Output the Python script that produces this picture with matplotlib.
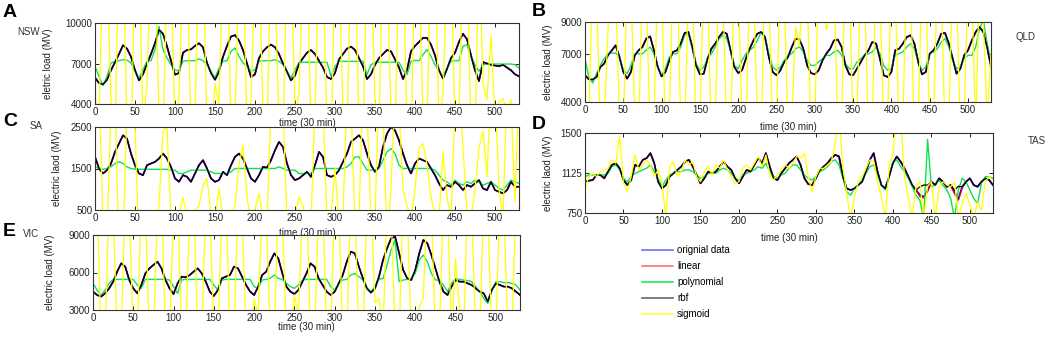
import numpy as np
import matplotlib
matplotlib.use("Agg")
import matplotlib.pyplot as plt
from matplotlib.lines import Line2D

plt.rcParams['font.family'] = ['Liberation Sans', 'DejaVu Sans']

# legend entries, in drawing order
series_names = ['orignial data', 'linear', 'polynomial', 'rbf', 'sigmoid']
series_colors = ['#0000ff', '#ff0000', '#10e050', '#000000', '#ffff00']
series_widths = [1.3, 0.8, 1.0, 0.9, 0.9]
legend_colors = ['#7070ff', '#ff7070', '#20ee50', '#666666', '#ffff40']

# ---- NSW (MW, every 5 half-hours from 0 to 530) ----
nsw_orig = [5950, 5550, 5450, 5800, 6500, 7100, 7700, 8350, 8100, 7500,
            6500, 5750, 6200, 7000, 7700, 8500, 9500, 9200, 8270, 7200,
            6170, 6300, 7800, 8000, 8050, 8300, 8500, 8200, 7040, 6300,
            5800, 6400, 7500, 8300, 9000, 9100, 8700, 8000, 7000, 6000,
            6200, 7400, 7900, 8200, 8400, 8200, 7700, 7000, 6400, 5750,
            6100, 7000, 7400, 7800, 8000, 7700, 7200, 6700, 6000, 5850,
            6300, 7300, 7700, 8100, 8250, 8000, 7400, 6800, 5850, 6200,
            6900, 7400, 7700, 8000, 7900, 7300, 6700, 5850, 6500, 7900,
            8300, 8600, 8900, 8900, 8400, 7600, 6500, 5880, 6600, 7400,
            7800, 8600, 9200, 8800, 7600, 6500, 5700, 7100, 7000, 6900,
            6850, 6800, 6900, 6700, 6500, 6200, 6050]
nsw_linear = nsw_orig
nsw_rbf = nsw_orig
nsw_poly = [6790, 6050, 5360, 6050, 7040, 7160, 7210, 7280, 7250, 7040,
            6420, 5930, 6540, 7160, 7210, 8020, 9750, 8020, 7410, 6910,
            6540, 6420, 7160, 7210, 7210, 7210, 7360, 7210, 6910, 6420,
            5930, 6670, 7160, 7210, 7900, 8150, 7530, 7040, 6790, 6420,
            6540, 7160, 7210, 7210, 7210, 7280, 7160, 6910, 6420, 5930,
            6540, 7040, 7090, 7090, 7090, 7090, 7090, 7090, 7090, 6050,
            6790, 7160, 7160, 7160, 7160, 7160, 7160, 7160, 6170, 6910,
            7090, 7090, 7090, 7090, 7090, 7090, 7090, 6500, 6170, 7160,
            7230, 7210, 7650, 8020, 7530, 6910, 6420, 6050, 6670, 7160,
            7210, 7210, 8270, 8400, 7530, 6910, 6420, 6910, 6960, 6960,
            6960, 6960, 6960, 6960, 6960, 6910, 6670]
nsw_sig = [4500, 3000, 15000, 14000, 4300, 2000, 15000, 16000, 2000, 1000,
           14000, 15000, 2500, 5500, 16000, 15000, 3000, 2000, 13000, 14000,
           2000, 4500, 15000, 14000, 2000, 3000, 16000, 15000, 2000, 1000,
           5500, 4000, 15000, 16000, 2000, 3000, 14000, 15000, 2000, 4200,
           14000, 16000, 3000, 2000, 15000, 13000, 2500, 1500, 15000, 16000,
           3000, 4800, 14000, 15000, 2000, 3000, 16000, 14000, 2000, 1000,
           14000, 15000, 3000, 2000, 15000, 16000, 2000, 1500, 14000, 15000,
           4300, 2000, 16000, 15000, 3000, 2000, 14000, 16000, 2000, 1000,
           15000, 14000, 3000, 2000, 16000, 15000, 2500, 4800, 14000, 15000,
           2000, 3000, 15000, 14000, 2000, 1500, 16000, 5400, 4300, 9100,
           3000, 4200, 4400, 3500, 4300, 3000, 3800]

# ---- QLD ----
qld_orig = [5670, 5420, 5400, 5560, 6190, 6400, 6920, 7230, 7540, 6810,
            5880, 5460, 5880, 6920, 7230, 7440, 7960, 8100, 7230, 6190,
            5600, 5880, 6600, 7130, 7230, 7650, 8310, 8375, 7440, 6290,
            5730, 5770, 6710, 7330, 7650, 8060, 8375, 8270, 7230, 6190,
            5810, 5980, 6710, 7330, 7850, 8270, 8375, 8060, 6810, 5880,
            5670, 5980, 6500, 6810, 7440, 7960, 7900, 7330, 6290, 5810,
            5730, 5980, 6600, 7020, 7330, 7850, 7900, 7440, 6290, 5730,
            5670, 6080, 6500, 6920, 7230, 7750, 7650, 6710, 5670, 5560,
            5880, 7230, 7330, 7650, 8060, 8170, 7650, 6500, 5730, 5880,
            7020, 7230, 7650, 8270, 8310, 7650, 6710, 5770, 6080, 6920,
            7230, 7850, 8375, 8690, 8375, 7440, 6190]
qld_linear = qld_orig
qld_rbf = qld_orig
qld_poly = [6710, 5560, 5190, 5770, 6290, 6710, 7020, 7060, 7060, 6810,
            5980, 5770, 6290, 7020, 7020, 7020, 7230, 7440, 7020, 6190,
            5670, 6080, 6810, 7020, 7020, 7440, 8170, 8270, 7440, 6400,
            5980, 6190, 6710, 7020, 7440, 7960, 8170, 7960, 7230, 6290,
            6080, 6600, 7020, 7230, 7440, 7850, 8375, 8060, 7020, 6190,
            5980, 6190, 6600, 6920, 7020, 7330, 7440, 7130, 6600, 6290,
            6290, 6500, 6710, 6920, 6920, 7130, 7230, 6920, 6400, 6080,
            6080, 6500, 6710, 6920, 7020, 7130, 7440, 7020, 6290, 5980,
            6080, 6920, 7020, 7130, 7440, 7650, 7330, 6500, 5980, 6190,
            7020, 7130, 7330, 7750, 7960, 7440, 6600, 6080, 6190, 6710,
            6920, 6920, 7440, 8580, 9100, 7650, 6500]
qld_sig = [4200, 3000, 12000, 11000, 2000, 2500, 8500, 12000, 11000, 3000,
           2000, 12000, 11000, 3000, 2000, 12000, 11000, 2000, 3000, 12000,
           11000, 2000, 3000, 12000, 13000, 2500, 2000, 11000, 12000, 2000,
           3000, 12000, 11000, 2000, 3000, 12000, 11000, 2000, 2000, 12000,
           11000, 3000, 2000, 12000, 11000, 3000, 2000, 12000, 11000, 2000,
           3000, 12000, 11000, 2000, 3000, 8700, 7500, 12000, 11000, 2000,
           3000, 12000, 11000, 8500, 9500, 12000, 2000, 3000, 13000, 12000,
           2000, 3000, 12000, 11000, 2000, 3000, 12000, 11000, 2000, 3000,
           12000, 11000, 2000, 3000, 12000, 11000, 2000, 3000, 12000, 11000,
           2000, 3000, 12000, 11000, 2000, 3000, 12000, 11000, 2000, 3000,
           12000, 11000, 2000, 12000, 9000, 3000, 7000]

# ---- SA ----
sa_orig = [1780, 1500, 1380, 1460, 1620, 1900, 2100, 2300, 2220, 1860,
           1580, 1380, 1340, 1580, 1620, 1660, 1740, 1860, 1740, 1540,
           1260, 1180, 1340, 1300, 1180, 1380, 1580, 1700, 1500, 1260,
           1180, 1220, 1420, 1340, 1580, 1780, 1860, 1740, 1500, 1260,
           1180, 1340, 1540, 1520, 1700, 1940, 2140, 2020, 1620, 1340,
           1220, 1260, 1340, 1420, 1300, 1580, 1900, 1780, 1340, 1300,
           1340, 1460, 1660, 1860, 2140, 2220, 2300, 2180, 1860, 1580,
           1420, 1540, 2020, 2340, 2500, 2420, 2180, 1860, 1580, 1380,
           1620, 1740, 1700, 1660, 1500, 1340, 1140, 980, 1100, 1060,
           1180, 1100, 980, 1100, 1060, 1140, 1220, 1020, 980, 1180,
           980, 940, 900, 980, 1180, 1060, 1060]
sa_linear = sa_orig
sa_rbf = sa_orig
sa_poly = [1540, 1500, 1480, 1500, 1540, 1620, 1660, 1620, 1540, 1500,
           1480, 1480, 1480, 1480, 1480, 1480, 1480, 1480, 1480, 1460,
           1460, 1380, 1380, 1420, 1460, 1460, 1460, 1460, 1460, 1420,
           1380, 1380, 1380, 1380, 1420, 1500, 1500, 1500, 1500, 1500,
           1500, 1500, 1500, 1500, 1500, 1500, 1540, 1500, 1460, 1460,
           1460, 1380, 1380, 1380, 1380, 1500, 1500, 1500, 1500, 1500,
           1500, 1500, 1500, 1540, 1620, 1780, 1780, 1620, 1460, 1460,
           1460, 1500, 1700, 1900, 1980, 1860, 1580, 1500, 1500, 1500,
           1500, 1500, 1500, 1500, 1500, 1460, 1340, 1220, 1180, 1100,
           1220, 1140, 1100, 1180, 1140, 1220, 1180, 1100, 1140, 1180,
           1100, 1020, 980, 1100, 1220, 1180, 1140]
sa_sig = [3000, 3500, 200, -200, 3000, 3200, -500, -300, 3000, 3500,
          2600, -500, 0, 300, 500, 200, 600, 2400, 2500, 300,
          200, 400, 800, 400, 300, 500, 600, 1100, 1260, 400,
          300, 1020, 300, 200, 400, 600, 1600, 2060, 800, 200,
          500, 900, 300, 200, 3000, 3500, 3200, 3000, 200, 300,
          300, 820, 600, 200, 200, 3000, 3500, 3000, 200, 400,
          1500, 200, 300, 3500, 3000, 200, 300, 3500, 3000, 200,
          300, 3500, 3000, -200, 1000, 3500, 3000, 1000, 600, 300,
          1000, 2000, 2100, 1600, 800, 400, 300, 1900, 800, 300,
          3000, 3500, 2000, 400, 300, 1000, 2000, 2400, 1300, 3500,
          3500, 1000, 300, 3500, 3000, 700, 3500]

# ---- TAS ----
tas_orig = [1043, 1053, 1059, 1106, 1106, 1075, 1138, 1201, 1217, 1169,
            1059, 1012, 1059, 1201, 1185, 1248, 1264, 1311, 1217, 1043,
            980, 1012, 1091, 1122, 1154, 1185, 1232, 1248, 1185, 1106,
            1028, 1075, 1138, 1122, 1138, 1185, 1232, 1185, 1154, 1075,
            1028, 1091, 1154, 1138, 1201, 1264, 1217, 1311, 1185, 1075,
            1059, 1122, 1169, 1217, 1248, 1280, 1201, 1075, 1021, 1012,
            1075, 1154, 1185, 1217, 1264, 1295, 1280, 1091, 980, 965,
            980, 1012, 1043, 1138, 1248, 1311, 1138, 1012, 980, 1091,
            1217, 1280, 1232, 1169, 1091, 1012, 965, 920, 901, 960,
            1043, 1012, 1075, 1043, 996, 1012, 950, 880, 996, 1043,
            1075, 1012, 996, 1043, 1075, 1059, 1012]
tas_linear = [1043, 1053, 1059, 1106, 1106, 1075, 1138, 1201, 1217, 1169,
              1059, 1012, 1059, 1201, 1185, 1248, 1264, 1311, 1217, 1043,
              980, 1012, 1091, 1122, 1154, 1185, 1232, 1248, 1185, 1106,
              1028, 1075, 1138, 1122, 1138, 1185, 1232, 1185, 1154, 1075,
              1028, 1091, 1154, 1138, 1201, 1264, 1217, 1311, 1185, 1075,
              1059, 1122, 1169, 1217, 1248, 1280, 1201, 1075, 1021, 1012,
              1075, 1154, 1185, 1217, 1264, 1295, 1280, 1091, 980, 965,
              980, 1012, 1043, 1138, 1248, 1311, 1138, 1012, 980, 1091,
              1217, 1280, 1232, 1169, 1091, 1012, 965, 901, 890, 950,
              1043, 1012, 1075, 1043, 996, 1000, 930, 870, 980, 1043,
              1075, 1012, 996, 1043, 1075, 1059, 1012]
tas_rbf = [1043, 1053, 1059, 1106, 1106, 1075, 1138, 1201, 1217, 1169,
           1059, 1012, 1059, 1201, 1185, 1248, 1264, 1311, 1217, 1043,
           980, 1012, 1091, 1122, 1154, 1185, 1232, 1248, 1185, 1106,
           1028, 1075, 1138, 1122, 1138, 1185, 1232, 1185, 1154, 1075,
           1028, 1091, 1154, 1138, 1201, 1264, 1217, 1311, 1185, 1075,
           1059, 1122, 1169, 1217, 1248, 1280, 1201, 1075, 1021, 1012,
           1075, 1154, 1185, 1217, 1264, 1295, 1280, 1091, 980, 965,
           980, 1012, 1043, 1138, 1248, 1311, 1138, 1012, 980, 1091,
           1217, 1280, 1232, 1169, 1091, 1012, 965, 996, 1012, 1012,
           1043, 1012, 1075, 1043, 996, 1012, 965, 1000, 996, 1043,
           1075, 1012, 996, 1043, 1075, 1059, 1012]
tas_poly = [1091, 1106, 1106, 1106, 1106, 1106, 1122, 1185, 1201, 1154,
            1075, 1043, 1091, 1122, 1138, 1154, 1169, 1201, 1138, 1075,
            996, 1059, 1106, 1122, 1138, 1138, 1154, 1154, 1138, 1106,
            1075, 1091, 1122, 1122, 1122, 1154, 1169, 1154, 1122, 1075,
            1059, 1106, 1122, 1138, 1154, 1185, 1169, 1217, 1138, 1091,
            1075, 1106, 1122, 1169, 1201, 1201, 1154, 1106, 1075, 1059,
            1091, 1138, 1154, 1185, 1232, 1248, 1201, 1075, 949, 917,
            980, 1012, 1059, 1122, 1185, 1201, 1106, 1012, 965, 1091,
            1232, 1248, 1185, 1138, 1075, 996, 917, 870, 700, 1440,
            996, 1012, 1059, 1012, 965, 886, 700, 965, 1075, 1043,
            965, 886, 839, 1028, 1091, 1091, 1075]
tas_sig = [980, 1091, 1122, 1091, 1138, 1154, 1169, 1248, 1217, 1468,
           1028, 949, 1091, 1295, 1154, 1201, 1248, 1201, 1091, 1154,
           1028, 700, 1185, 1232, 1091, 1138, 1248, 1201, 1232, 1091,
           1043, 1138, 1185, 1106, 1201, 1169, 1248, 1154, 1091, 1028,
           1043, 1169, 1201, 1154, 1217, 1280, 1185, 1295, 1106, 1059,
           1106, 1154, 1201, 1169, 1217, 1280, 1264, 1311, 1091, 949,
           1091, 1169, 1169, 1201, 1232, 1405, 1650, 1185, 933, 700,
           901, 1043, 1091, 1169, 1248, 1232, 1043, 901, 700, 1185,
           1311, 1650, 1650, 1091, 901, 700, 1000, 1043, 700, 1000,
           1043, 700, 996, 1043, 1012, 996, 1043, 700, 839, 933,
           823, 700, 854, 776, 1043, 1091, 1059]

# ---- VIC ----
vic_orig = [4470, 4200, 4070, 4330, 4730, 5270, 6070, 6730, 6470, 5400,
            4730, 4330, 5000, 5930, 6330, 6600, 6870, 6330, 5400, 4730,
            4280, 5130, 5670, 5610, 5800, 6070, 6330, 5930, 5270, 4470,
            4120, 4600, 5530, 5670, 5800, 6470, 6330, 5670, 5000, 4470,
            4200, 4870, 5800, 6070, 6870, 7530, 7130, 5930, 4870, 4470,
            4280, 4600, 5270, 5930, 6730, 6470, 5530, 5000, 4470, 4200,
            4470, 5130, 5800, 6870, 7670, 7530, 6470, 5530, 4730, 4390,
            4730, 5670, 7000, 7930, 8730, 8870, 7530, 6200, 5530, 5400,
            6200, 7530, 8600, 8330, 7400, 6330, 5270, 4470, 4200, 4870,
            5400, 5270, 5270, 5130, 5000, 4730, 4470, 4330, 3670, 4600,
            5130, 5000, 4870, 4870, 4730, 4470, 4200]
vic_linear = vic_orig
vic_rbf = vic_orig
vic_poly = [5130, 4600, 4200, 4600, 5130, 5450, 5450, 5450, 5450, 5450,
            5450, 5000, 4730, 5450, 5450, 5450, 5450, 5450, 5450, 5400,
            4870, 4330, 5400, 5450, 5450, 5450, 5450, 5450, 5450, 5450,
            5000, 4600, 5400, 5450, 5450, 5450, 5450, 5450, 5450, 5450,
            4870, 4730, 5400, 5450, 5530, 5800, 5530, 5450, 5130, 4870,
            4730, 5000, 5400, 5450, 5450, 5450, 5450, 5450, 5450, 4870,
            4600, 5130, 5400, 5450, 5800, 5930, 5670, 5400, 4730, 4470,
            4870, 5450, 5530, 6600, 7800, 8600, 5270, 5400, 5450, 5530,
            5930, 7000, 7400, 6870, 5930, 5400, 5400, 5000, 4470, 5130,
            5530, 5450, 5400, 5350, 5270, 4870, 4470, 3930, 3530, 4470,
            5270, 5270, 5190, 5190, 5130, 5000, 4600]
vic_sig = [9000, 12000, 1000, 1000, 12000, 11000, 1000, 1000, 12000, 11000,
           1000, 1000, 12000, 11000, 1000, 1000, 11000, 12000, 1000, 1000,
           11000, 12000, 1000, 1000, 11000, 12000, 1000, 1000, 12000, 11000,
           1000, 1000, 11000, 12000, 1000, 1000, 12000, 11000, 1000, 1000,
           3930, 2500, 12000, 11000, 1000, 1000, 12000, 11000, 1000, 1000,
           4200, 2500, 11000, 12000, 1000, 1000, 11000, 12000, 1000, 1000,
           12000, 11000, 1000, 1000, 12000, 11000, 1000, 1000, 11000, 12000,
           3600, 3900, 1000, 12000, 11000, 1000, 1000, 12000, 11000, 1000,
           1000, 3200, 4000, 12000, 11000, 1000, 1000, 12000, 11000, 1000,
           7100, 3000, 1000, 12000, 11000, 1000, 1000, 12000, 11000, 1000,
           1000, 12000, 11000, 1000, 1000, 12000, 11000]

W, H = 1045, 342


def px_box(x0, y0, x1, y1):
    # pixel box (top-left origin) -> figure fraction rect
    return [x0 / W, 1 - y1 / H, (x1 - x0) / W, (y1 - y0) / H]


panels = [
    dict(letter='A', region='NSW', box=(95, 23, 519, 104), ylim=(4000, 10000),
         yticks=[4000, 7000, 10000], ylabel='eletric load (MV)', ylx=-0.099, xly=-0.175,
         data=[nsw_orig, nsw_linear, nsw_poly, nsw_rbf, nsw_sig],
         letter_xy=(3, 17), region_xy=(29, 32)),
    dict(letter='B', region='QLD', box=(585, 22, 991, 102), ylim=(4000, 9000),
         yticks=[4000, 7000, 9000], ylabel='electric load (MV)', ylx=-0.079, xly=-0.25,
         data=[qld_orig, qld_linear, qld_poly, qld_rbf, qld_sig],
         letter_xy=(532, 16), region_xy=(1026, 37)),
    dict(letter='C', region='SA', box=(95, 127, 519, 210), ylim=(500, 2500),
         yticks=[500, 1500, 2500], ylabel='electric laod (MV)', ylx=-0.078, xly=-0.22,
         data=[sa_orig, sa_linear, sa_poly, sa_rbf, sa_sig],
         letter_xy=(3, 126), region_xy=(36, 126)),
    dict(letter='D', region='TAS', box=(585, 133, 993, 213), ylim=(750, 1500),
         yticks=[750, 1125, 1500], ylabel='electric laod (MV)', ylx=-0.078, xly=-0.25,
         data=[tas_orig, tas_linear, tas_poly, tas_rbf, tas_sig],
         letter_xy=(532, 129), region_xy=(1037, 141)),
    dict(letter='E', region='VIC', box=(93, 235, 520, 310), ylim=(3000, 9000),
         yticks=[3000, 6000, 9000], ylabel='electric load (MV)', ylx=-0.089, xly=-0.155,
         data=[vic_orig, vic_linear, vic_poly, vic_rbf, vic_sig],
         letter_xy=(3, 236), region_xy=(31, 234)),
]

fig = plt.figure(figsize=(W / 100, H / 100), dpi=100)

for p in panels:
    ax = fig.add_axes(px_box(*p['box']))
    for vals, c, lw in zip(p['data'], series_colors, series_widths):
        t = np.linspace(0, 530, len(vals))
        ax.plot(t, vals, color=c, lw=lw)
    ax.set_xlim(0, 530)
    ax.set_ylim(*p['ylim'])
    ax.set_xticks(np.arange(0, 501, 50))
    ax.set_yticks(p['yticks'])
    ax.tick_params(direction='in', length=3, width=0.7, labelsize=7, pad=2,
                   top=True, right=True, colors='#222222', labelcolor='#222222')
    for s in ax.spines.values():
        s.set_color('#333333')
        s.set_linewidth(0.8)
    ax.set_ylabel(p['ylabel'], fontsize=7, color='#222222')
    ax.yaxis.set_label_coords(p['ylx'], 0.5)
    ax.set_xlabel('time (30 min)', fontsize=7, color='#222222')
    ax.xaxis.set_label_coords(0.5, p['xly'])
    lx, ly = p['letter_xy']
    fig.text(lx / W, 1 - ly / H, p['letter'], fontsize=14, fontweight='bold',
             ha='left', va='baseline')
    rx, ry = p['region_xy']
    fig.text(rx / W, 1 - ry / H, p['region'], fontsize=7, color='#333333',
             ha='center', va='center')

handles = [Line2D([], [], color=c, lw=1.2) for c in legend_colors]
fig.legend(handles, series_names, loc='upper left',
           bbox_to_anchor=(642 / W, 1 - 245 / H), frameon=False, fontsize=7,
           borderpad=0, borderaxespad=0, handlelength=3.2, handletextpad=0.4,
           labelspacing=0.62)

fig.savefig('out.png', dpi=100)
